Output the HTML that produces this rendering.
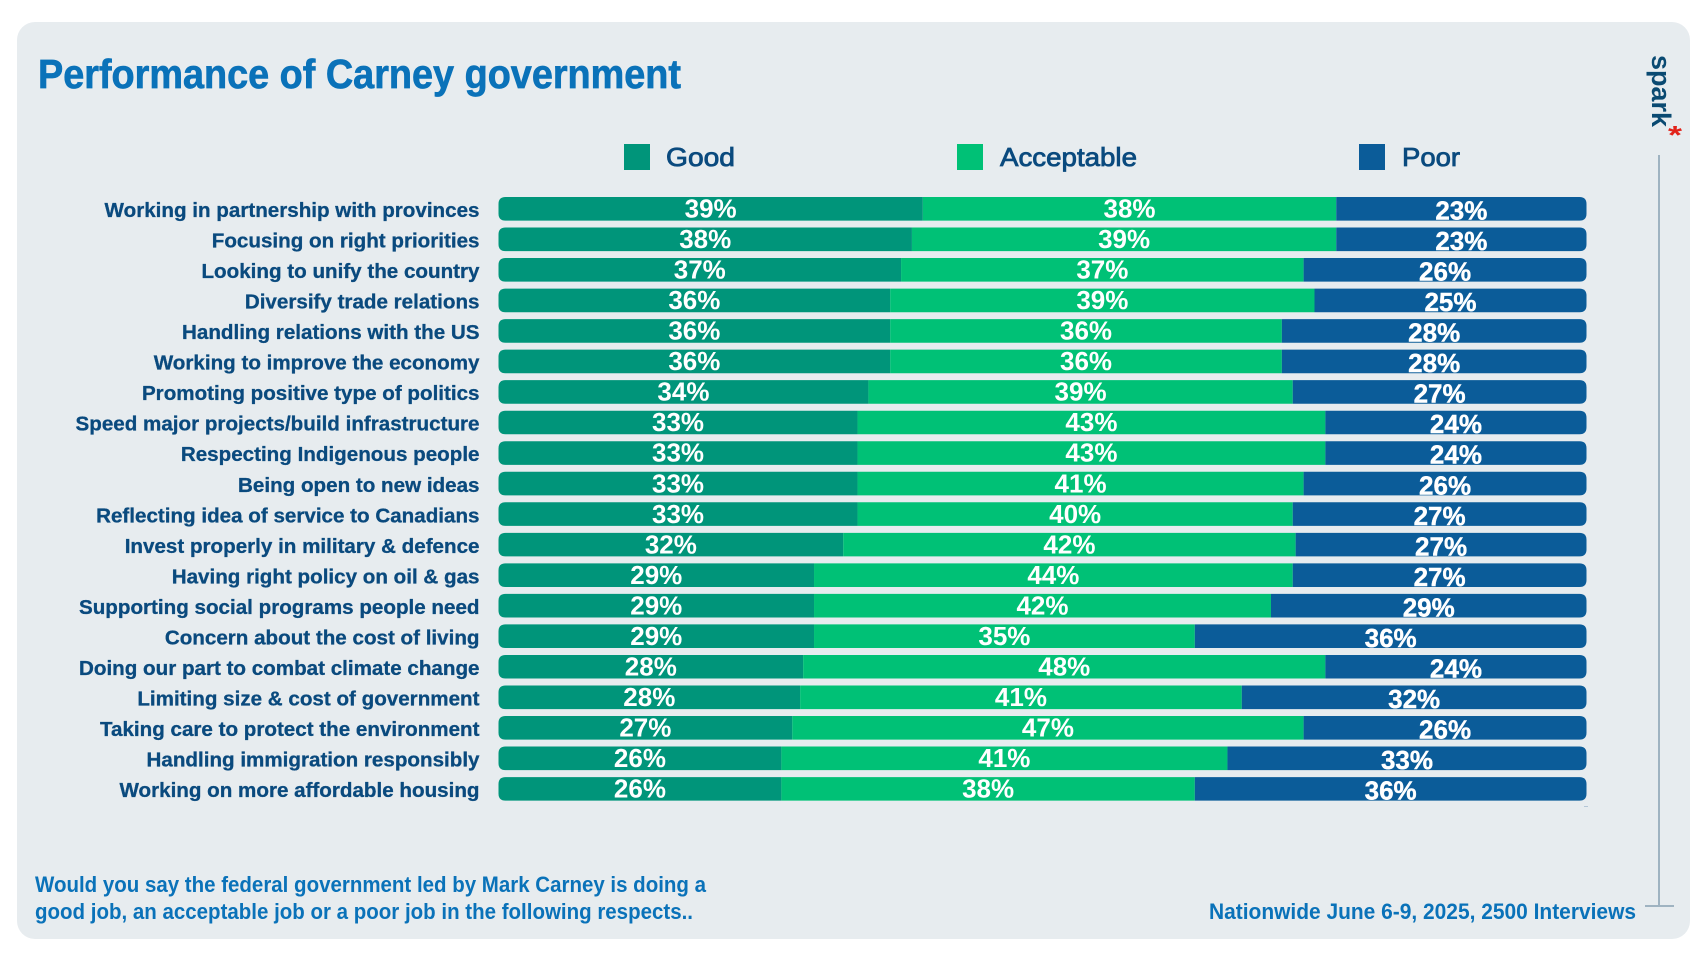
<!DOCTYPE html>
<html lang="en">
<head>
<meta charset="utf-8">
<title>Performance of Carney government</title>
<style>
html,body{margin:0;padding:0;background:#fff;width:1704px;height:958px;overflow:hidden}
svg{display:block}
text{font-family:"Liberation Sans",Arial,sans-serif}
</style>
</head>
<body>
<svg id="chart" xmlns="http://www.w3.org/2000/svg" width="1704" height="958" viewBox="0 0 1704 958">
  <rect x="17" y="22" width="1673" height="917" rx="18" fill="#e7ecef"/>
  <text x="38" y="88" font-size="41" font-weight="700" fill="#0a72b9" stroke="#0a72b9" stroke-width="0.7" textLength="643" lengthAdjust="spacingAndGlyphs">Performance of Carney government</text>

  <g>
    <rect x="624" y="144" width="26" height="26" fill="#00957a"/>
    <text x="666" y="166" font-size="26" fill="#0a4a7e" stroke="#0a4a7e" stroke-width="0.8" textLength="69" lengthAdjust="spacingAndGlyphs">Good</text>
    <rect x="957" y="144" width="26" height="26" fill="#00c176"/>
    <text x="1000" y="166" font-size="26" fill="#0a4a7e" stroke="#0a4a7e" stroke-width="0.8" textLength="137" lengthAdjust="spacingAndGlyphs">Acceptable</text>
    <rect x="1359" y="144" width="26" height="26" fill="#0b5c99"/>
    <text x="1402" y="166" font-size="26" fill="#0a4a7e" stroke="#0a4a7e" stroke-width="0.8" textLength="58" lengthAdjust="spacingAndGlyphs">Poor</text>
  </g>

  <g id="rows"></g>

  <rect x="1584" y="806" width="4" height="1" fill="#b4c6d6"/>

  <text x="35" y="892" font-size="22" font-weight="700" fill="#0a72b9" textLength="671" lengthAdjust="spacingAndGlyphs">Would you say the federal government led by Mark Carney is doing a</text>
  <text x="35" y="919" font-size="22" font-weight="700" fill="#0a72b9" textLength="658" lengthAdjust="spacingAndGlyphs">good job, an acceptable job or a poor job in the following respects..</text>
  <text x="1209" y="919" font-size="22" font-weight="700" fill="#0a72b9" textLength="427" lengthAdjust="spacingAndGlyphs">Nationwide June 6-9, 2025, 2500 Interviews</text>

  <rect x="1658" y="155" width="2" height="752" fill="#9fb3c1"/>
  <rect x="1645" y="905" width="29" height="2" fill="#9fb3c1"/>
  <text transform="translate(1652 55) rotate(90)" font-size="27" font-weight="700" fill="#0a4a72" textLength="72" lengthAdjust="spacingAndGlyphs">spark</text>
  <text x="1668" y="144" font-size="26" font-weight="700" fill="#e2231a" textLength="14" lengthAdjust="spacingAndGlyphs">*</text>
</svg>
<script>
const categories = [
  "Working in partnership with provinces",
  "Focusing on right priorities",
  "Looking to unify the country",
  "Diversify trade relations",
  "Handling relations with the US",
  "Working to improve the economy",
  "Promoting positive type of politics",
  "Speed major projects/build infrastructure",
  "Respecting Indigenous people",
  "Being open to new ideas",
  "Reflecting idea of service to Canadians",
  "Invest properly in military & defence",
  "Having right policy on oil & gas",
  "Supporting social programs people need",
  "Concern about the cost of living",
  "Doing our part to combat climate change",
  "Limiting size & cost of government",
  "Taking care to protect the environment",
  "Handling immigration responsibly",
  "Working on more affordable housing"
];
const goodValues = [39,38,37,36,36,36,34,33,33,33,33,32,29,29,29,28,28,27,26,26];
const acceptableValues = [38,39,37,39,36,36,39,43,43,41,40,42,44,42,35,48,41,47,41,38];
const poorValues = [23,23,26,25,28,28,27,24,24,26,27,27,27,29,36,24,32,26,33,36];

const NS = 'http://www.w3.org/2000/svg';
const plotLeft = 498.5;
const plotRight = 1586.5;
const firstRowTop = 197;
const rowPitch = 30.53;
const barHeight = 23.6;
const cornerRadius = 7;

function xScale(share) {
  return plotLeft + share * (plotRight - plotLeft);
}
function yScale(index) {
  return firstRowTop + index * rowPitch;
}
function segmentPath(x0, x1, y, h, roundLeft, roundRight) {
  const r = cornerRadius;
  let d = '';
  if (roundLeft) {
    d += 'M' + (x0 + r) + ' ' + y;
  } else {
    d += 'M' + x0 + ' ' + y;
  }
  if (roundRight) {
    d += 'L' + (x1 - r) + ' ' + y + 'Q' + x1 + ' ' + y + ' ' + x1 + ' ' + (y + r);
    d += 'L' + x1 + ' ' + (y + h - r) + 'Q' + x1 + ' ' + (y + h) + ' ' + (x1 - r) + ' ' + (y + h);
  } else {
    d += 'L' + x1 + ' ' + y + 'L' + x1 + ' ' + (y + h);
  }
  if (roundLeft) {
    d += 'L' + (x0 + r) + ' ' + (y + h) + 'Q' + x0 + ' ' + (y + h) + ' ' + x0 + ' ' + (y + h - r);
    d += 'L' + x0 + ' ' + (y + r) + 'Q' + x0 + ' ' + y + ' ' + (x0 + r) + ' ' + y;
  } else {
    d += 'L' + x0 + ' ' + (y + h);
  }
  return d + 'Z';
}

const rowsGroup = document.getElementById('rows');
categories.forEach(function (category, i) {
  const good = goodValues[i];
  const acceptable = acceptableValues[i];
  const poor = poorValues[i];
  const total = good + acceptable + poor;
  const y = yScale(i);
  const x0 = xScale(0);
  const x1 = xScale(good / total);
  const x2 = xScale((good + acceptable) / total);
  const x3 = xScale(1);

  const row = document.createElementNS(NS, 'g');
  
  
  rowsGroup.appendChild(row);

  const label = document.createElementNS(NS, 'text');
  
  
  label.setAttribute('transform', 'translate(479.5 ' + (y + 20) + ') scale(1.03 1)');
  label.setAttribute('text-anchor', 'end');
  label.setAttribute('font-size', '20');
  label.setAttribute('font-weight', '700');
  label.setAttribute('fill', '#0a4a7e');
  label.setAttribute('stroke', '#0a4a7e');
  label.setAttribute('stroke-width', '0.3');
  label.textContent = category;
  row.appendChild(label);

  const goodBar = document.createElementNS(NS, 'path');
  
  
  goodBar.setAttribute('d', segmentPath(x0, x1, y, barHeight, true, false));
  goodBar.setAttribute('fill', '#00957a');
  row.appendChild(goodBar);

  const acceptableBar = document.createElementNS(NS, 'path');
  
  
  acceptableBar.setAttribute('d', segmentPath(x1, x2, y, barHeight, false, false));
  acceptableBar.setAttribute('fill', '#00c176');
  row.appendChild(acceptableBar);

  const poorBar = document.createElementNS(NS, 'path');
  
  
  poorBar.setAttribute('d', segmentPath(x2, x3, y, barHeight, false, true));
  poorBar.setAttribute('fill', '#0b5c99');
  row.appendChild(poorBar);

  const goodText = document.createElementNS(NS, 'text');
  
  
  goodText.setAttribute('x', (x0 + x1) / 2);
  goodText.setAttribute('y', y + 20.5);
  goodText.setAttribute('text-anchor', 'middle');
  goodText.setAttribute('font-size', '26');
  goodText.setAttribute('font-weight', '700');
  goodText.setAttribute('fill', '#ffffff');
  goodText.textContent = good + '%';
  row.appendChild(goodText);

  const acceptableText = document.createElementNS(NS, 'text');
  
  
  acceptableText.setAttribute('x', (x1 + x2) / 2);
  acceptableText.setAttribute('y', y + 20.5);
  acceptableText.setAttribute('text-anchor', 'middle');
  acceptableText.setAttribute('font-size', '26');
  acceptableText.setAttribute('font-weight', '700');
  acceptableText.setAttribute('fill', '#ffffff');
  acceptableText.textContent = acceptable + '%';
  row.appendChild(acceptableText);

  const poorText = document.createElementNS(NS, 'text');
  
  
  poorText.setAttribute('x', (x2 + x3) / 2);
  poorText.setAttribute('y', y + 22.5);
  poorText.setAttribute('text-anchor', 'middle');
  poorText.setAttribute('font-size', '26');
  poorText.setAttribute('font-weight', '700');
  poorText.setAttribute('fill', '#ffffff');
  poorText.setAttribute('stroke', '#ffffff');
  poorText.setAttribute('stroke-width', '0.4');
  poorText.textContent = poor + '%';
  row.appendChild(poorText);
});
</script>
</body>
</html>
